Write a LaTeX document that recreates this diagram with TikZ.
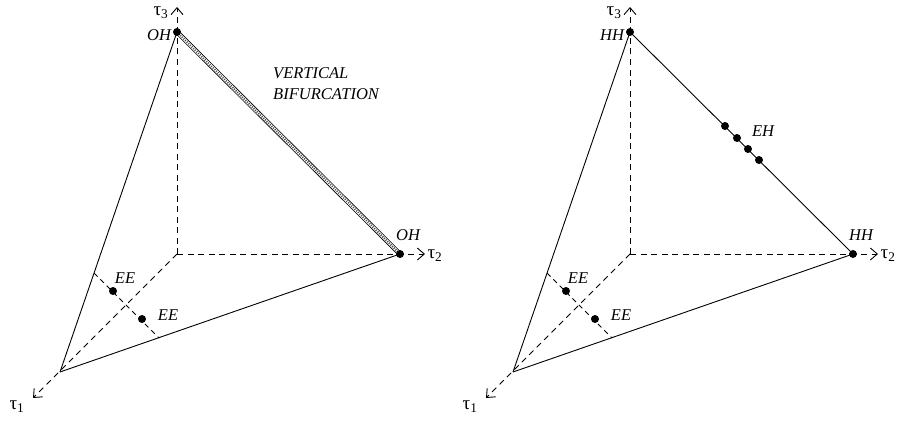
\documentclass[tikz,border=0pt]{standalone}
\usepackage{fontspec}
\setmainfont{Liberation Serif}
\usetikzlibrary{arrows.meta}

\begin{document}
\begin{tikzpicture}[x=1pt, y=-1pt,
  axis/.style={dash pattern=on 6pt off 4.5pt, line width=0.8pt, -{Straight Barb[length=7pt, width=12pt, line width=0.9pt]}},
  guide/.style={dash pattern=on 5pt off 4pt, line width=0.8pt},
  edge/.style={line width=0.9pt},
  dot/.style={circle, fill, inner sep=0pt, minimum size=8pt},
  lbl/.style={font=\fontsize{16.5}{19}\selectfont\itshape, inner sep=0pt},
  axlbl/.style={font=\fontsize{19}{21}\selectfont, inner sep=0pt}]
\useasboundingbox (0,0) rectangle (904,420);

% left simplex
\coordinate (lO) at (177,254);
\coordinate (lT1) at (33,398);
\coordinate (lT2) at (425,254);
\coordinate (lT3) at (177,7);
\coordinate (lV1) at (60,372);
\coordinate (lV2) at (400,254);
\coordinate (lV3) at (177,32);
\coordinate (lE1) at (94,273);
\coordinate (lE2) at (159,338);
\draw[axis] (lO) -- (lT1);
\draw[axis] (lO) -- (lT2);
\draw[axis] (lO) -- (lT3);
\draw[guide] (lE1) -- (lE2);
\draw[edge] (lV1) -- (lV3);
\draw[edge] (lV1) -- (lV2);
\draw[double, double distance=3pt, line width=0.8pt] (lV3) -- (lV2);
\draw[black!70, dash pattern=on 1pt off 1.3pt, line width=2pt] (lV3) -- (lV2);
\node[dot] (lOH1) at (lV3) {};
\node[dot] (lOH2) at (lV2) {};
\node[dot] (lEE1) at (113,291) {};
\node[dot] (lEE2) at (142,319) {};
\node[axlbl] (lt1) at (17,407) {τ\textsubscript{1}};
\node[axlbl] (lt2) at (435,256) {τ\textsubscript{2}};
\node[axlbl] (lt3) at (161,13) {τ\textsubscript{3}};
\node[lbl] (lOHa) at (159,35) {OH};
\node[lbl] (lOHb) at (408,235) {OH};
\node[lbl] (lEEa) at (125,278) {EE};
\node[lbl] (lEEb) at (168,315) {EE};
\node[lbl, anchor=west, align=left, font=\fontsize{16.5}{21}\selectfont\itshape] (vb) at (273,84) {VERTICAL\\BIFURCATION};

% right simplex
\begin{scope}[xshift=453pt]
\coordinate (rO) at (177,254);
\coordinate (rT1) at (33,398);
\coordinate (rT2) at (425,254);
\coordinate (rT3) at (177,7);
\coordinate (rV1) at (60,372);
\coordinate (rV2) at (400,254);
\coordinate (rV3) at (177,32);
\coordinate (rE1) at (94,273);
\coordinate (rE2) at (159,338);
\draw[axis] (rO) -- (rT1);
\draw[axis] (rO) -- (rT2);
\draw[axis] (rO) -- (rT3);
\draw[guide] (rE1) -- (rE2);
\draw[edge] (rV1) -- (rV3);
\draw[edge] (rV1) -- (rV2);
\draw[edge] (rV3) -- (rV2);
\node[dot] (rHH1) at (rV3) {};
\node[dot] (rHH2) at (rV2) {};
\node[dot] (rEE1) at (113,291) {};
\node[dot] (rEE2) at (142,319) {};
\foreach \k/\p in {1/{272,126}, 2/{284,138}, 3/{295,149}, 4/{306,160}}
  \node[dot] (rEH\k) at (\p) {};
\node[axlbl] (rt1) at (17,407) {τ\textsubscript{1}};
\node[axlbl] (rt2) at (435,256) {τ\textsubscript{2}};
\node[axlbl] (rt3) at (161,13) {τ\textsubscript{3}};
\node[lbl] (rHHa) at (159,35) {HH};
\node[lbl] (rHHb) at (408,235) {HH};
\node[lbl] (rEHa) at (310,131) {EH};
\node[lbl] (rEEa) at (125,278) {EE};
\node[lbl] (rEEb) at (168,315) {EE};
\end{scope}
\end{tikzpicture}
\end{document}
